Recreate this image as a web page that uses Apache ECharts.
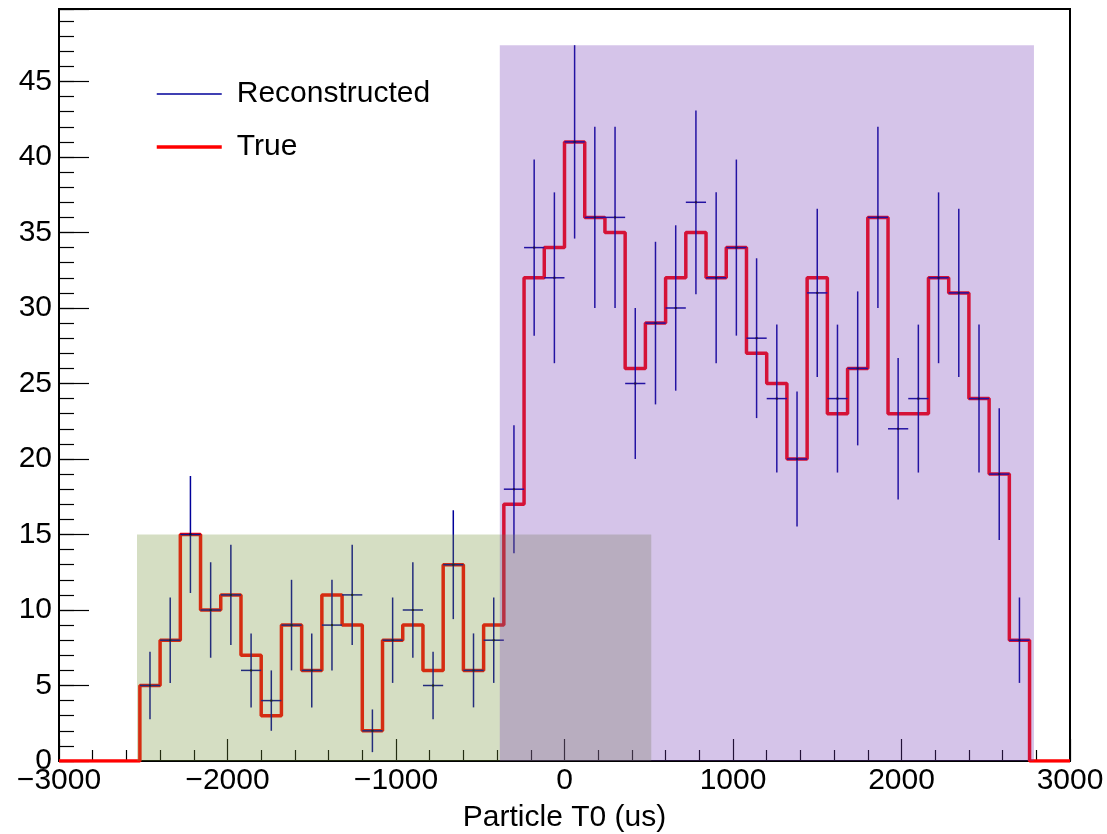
<!DOCTYPE html>
<html>
<head>
<meta charset="utf-8">
<title>Particle T0</title>
<script src="https://cdn.jsdelivr.net/npm/echarts@6/dist/echarts.min.js"></script>
<style>
  html, body { margin: 0; padding: 0; background: #fff; }
  #chart { width: 1107px; height: 834px; }
</style>
</head>
<body>
<div id="chart"></div>
<script>
// 50 bins of 120 us between -3000 and 3000
var xMin = -3000, xMax = 3000, binWidth = 120;

var trueCounts = [0, 0, 0, 0,
  5, 8, 15, 10, 11, 7, 3, 9, 6, 11,
  9, 2, 8, 9, 6, 13, 6, 9, 17, 32,
  34, 41, 36, 35, 26, 29, 32, 35, 32, 34,
  27, 25, 20, 32, 23, 26, 36, 23, 23, 32,
  31, 24, 19, 8, 0, 0];

var recoCounts = [0, 0, 0, 0,
  5, 8, 15, 10, 11, 6, 4, 9, 6, 9,
  11, 2, 8, 10, 5, 13, 6, 8, 18, 34,
  32, 41, 36, 36, 25, 29, 30, 37, 32, 34,
  28, 24, 20, 31, 24, 26, 36, 22, 24, 32,
  31, 24, 19, 8, 0, 0];

// shaded windows: [xFrom, xTo, yFrom, yTo]
var greenBox = [-2537, 515, 0, 15];
var purpleBox = [-384, 2786, 0, 47.4];

var yMax = 49.8;

var font = 'Liberation Sans, Arial, Helvetica, sans-serif';
var blue = '#00009a';

var binEdges = [];
for (var i = 0; i <= trueCounts.length; i++) binEdges.push(xMin + i * binWidth);

var stepData = trueCounts.map(function (c, i) { return [binEdges[i], c]; });
stepData.push([xMax, trueCounts[trueCounts.length - 1]]);

var recoData = recoCounts.map(function (c, i) { return [binEdges[i], binEdges[i + 1], c]; });

var boxFills = ['rgba(115,145,55,0.3)', 'rgba(115,58,182,0.3)'];

function numFmt(v) {
  return v < 0 ? '\u2212' + (-v) : String(v);
}

var chart = echarts.init(document.getElementById('chart'));

chart.setOption({
  animation: false,
  grid: {
    left: 59, right: 37, top: 9, bottom: 73,
    outerBoundsMode: 'none',
    show: true, borderColor: '#000', borderWidth: 2
  },
  legend: {
    data: [
      { name: 'Reconstructed', lineStyle: { width: 1.5 } },
      { name: 'True', lineStyle: { width: 3.5 } }
    ],
    orient: 'vertical',
    left: 155, top: 79, padding: 0,
    itemWidth: 65, itemHeight: 14, itemGap: 23,
    selectedMode: false,
    itemStyle: { opacity: 0 },
    textStyle: { fontSize: 30, lineHeight: 28, color: '#000', fontFamily: font, padding: [0, 0, 0, 10] }
  },
  xAxis: {
    type: 'value', min: xMin, max: xMax, interval: 1000,
    name: 'Particle T0 (us)', nameLocation: 'middle', nameGap: 42,
    nameTextStyle: { fontSize: 30, color: '#000', fontFamily: font },
    axisLine: { lineStyle: { color: '#000', width: 2 } },
    axisTick: { inside: true, length: 22, lineStyle: { color: '#000', width: 1.2 } },
    minorTick: { show: true, splitNumber: 5, length: 11, lineStyle: { color: '#000', width: 1.2 } },
    splitLine: { show: false },
    axisLabel: { fontSize: 30, color: '#000', fontFamily: font, margin: 5, formatter: numFmt }
  },
  yAxis: [{
    type: 'value', min: 0, max: yMax, interval: 5,
    axisLine: { show: true, onZero: false, lineStyle: { color: '#000', width: 2 } },
    axisTick: { show: true, inside: true, length: 30, lineStyle: { color: '#000', width: 1.2 } },
    splitLine: { show: false },
    axisLabel: {
      fontSize: 30, color: '#000', fontFamily: font, margin: 7,
      formatter: function (v) { return v % 5 === 0 ? String(v) : ''; }
    }
  }, {
    // minor ticks, one per count
    type: 'value', min: 0, max: yMax, interval: 1, position: 'left',
    axisLine: { show: false, onZero: false },
    axisTick: { show: true, inside: true, length: 15, lineStyle: { color: '#000', width: 1.2 } },
    axisLabel: { show: false },
    splitLine: { show: false }
  }],
  series: [
    {
      // legend entry for the error-bar series
      name: 'Reconstructed', type: 'line', data: [], symbol: 'none',
      color: blue, lineStyle: { color: blue, width: 1.5 }
    },
    {
      name: 'True', type: 'line', step: 'end', data: stepData,
      symbol: 'none', z: 2,
      color: '#ff0000', lineStyle: { color: '#ff0000', width: 3.5 }
    },
    {
      name: 'Reconstructed', type: 'custom', z: 3, data: recoData,
      renderItem: function (params, api) {
        var x0 = api.value(0), x1 = api.value(1), c = api.value(2);
        if (!c) return { type: 'group', children: [] };
        var err = Math.sqrt(c); // poisson error
        var xc = (x0 + x1) / 2;
        var l = api.coord([x0, c]), r = api.coord([x1, c]);
        var t = api.coord([xc, c + err]), b = api.coord([xc, c - err]);
        var st = { stroke: blue, lineWidth: 1.5 };
        return {
          type: 'group',
          children: [
            { type: 'line', shape: { x1: l[0], y1: l[1], x2: r[0], y2: r[1] }, style: st },
            { type: 'line', shape: { x1: t[0], y1: t[1], x2: b[0], y2: b[1] }, style: st },
            { type: 'rect', shape: { x: t[0] - 1, y: l[1] - 1, width: 2, height: 2 }, style: { fill: '#000' } }
          ]
        };
      }
    },
    {
      name: 'windows', type: 'custom', z: 4, data: [greenBox, purpleBox],
      renderItem: function (params, api) {
        var p0 = api.coord([api.value(0), api.value(3)]);
        var p1 = api.coord([api.value(1), api.value(2)]);
        return {
          type: 'rect',
          shape: { x: p0[0], y: p0[1], width: p1[0] - p0[0], height: p1[1] - p0[1] },
          style: { fill: boxFills[params.dataIndex] }
        };
      }
    }
  ]
});
</script>
</body>
</html>
